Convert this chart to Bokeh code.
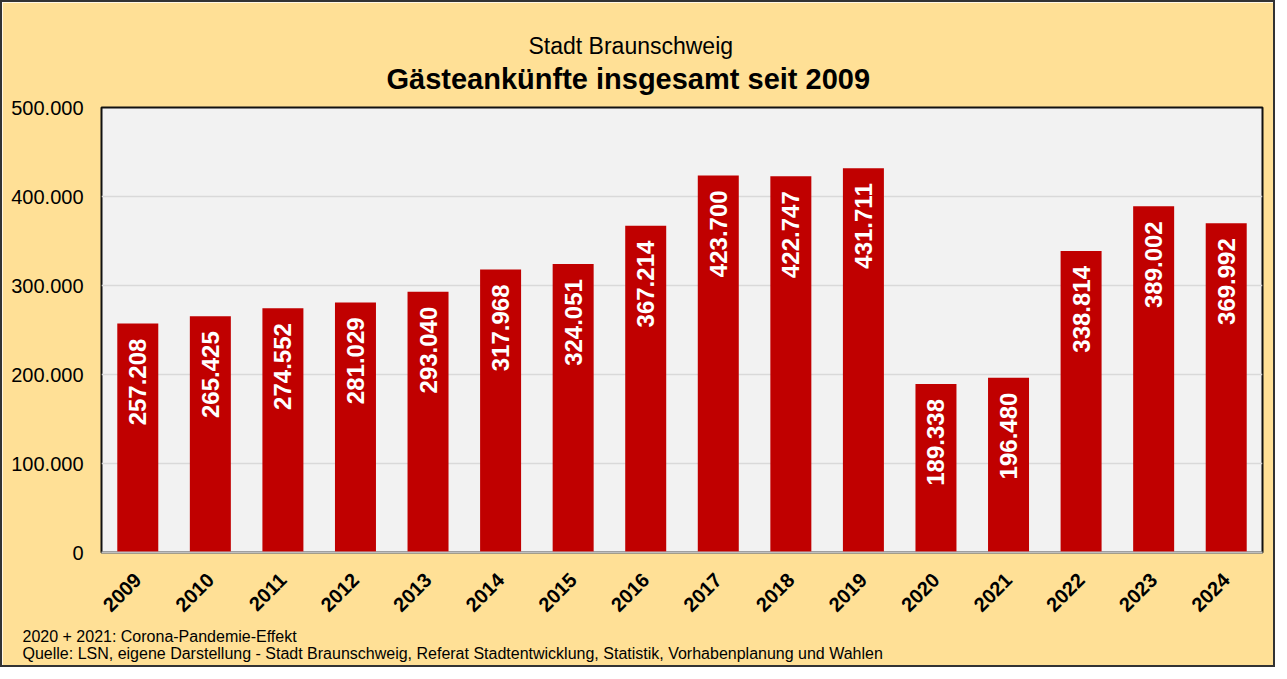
import math
from bokeh.plotting import figure
from bokeh.models import ColumnDataSource, FixedTicker, Title
from bokeh.core.properties import value
from bokeh.embed import file_html
from bokeh.resources import INLINE

years = ["2009", "2010", "2011", "2012", "2013", "2014", "2015", "2016",
         "2017", "2018", "2019", "2020", "2021", "2022", "2023", "2024"]
arrivals = [257208, 265425, 274552, 281029, 293040, 317968, 324051, 367214,
            423700, 422747, 431711, 189338, 196480, 338814, 389002, 369992]
y_ticks = [0, 100000, 200000, 300000, 400000, 500000]
y_tick_labels = ["0", "100.000", "200.000", "300.000", "400.000", "500.000"]
title_top = "Stadt Braunschweig"
title_main = "Gästeankünfte insgesamt seit 2009"
notes = ["2020 + 2021: Corona-Pandemie-Effekt",
         "Quelle: LSN, eigene Darstellung - Stadt Braunschweig, Referat Stadtentwicklung, Statistik, Vorhabenplanung und Wahlen"]

FONT = "Liberation Sans"
BG = "#FFE096"


def fmt(v):
    return f"{v:,}".replace(",", ".")


src = ColumnDataSource(dict(x=years, y=arrivals, label=[fmt(v) for v in arrivals]))

# 1275 x 667 canvas + 2px css border on every side = 1279 x 671
p = figure(x_range=years, y_range=(0, 500000), width=1275, height=667,
           output_backend="svg", toolbar_location=None,
           min_border_left=99, min_border_right=15, min_border_top=105,
           min_border_bottom=117)
p.styles = {"border": "2px solid #333333"}
p.border_fill_color = BG
p.background_fill_color = "#F2F2F2"
p.outline_line_color = "#111111"
p.outline_line_width = 2

p.vbar(x="x", top="y", width=0.565, source=src, color="#C00000", line_color=None)
p.text(x="x", y="y", text="label", source=src, angle=math.pi / 2,
       text_align="right", text_baseline="middle", y_offset=15,
       text_color="white", text_font=value(FONT), text_font_style="bold",
       text_font_size="24px")

p.xgrid.grid_line_color = None
p.ygrid.grid_line_color = "#D9D9D9"
p.ygrid.grid_line_width = 1.5
p.yaxis.ticker = FixedTicker(ticks=y_ticks)
p.yaxis.major_label_overrides = {t: l for t, l in zip(y_ticks, y_tick_labels)}

for ax in (p.xaxis[0], p.yaxis[0]):
    ax.major_tick_line_color = None
    ax.minor_tick_line_color = None
    ax.major_tick_out = 0
    ax.minor_tick_out = 0
    ax.major_label_text_font = FONT
    ax.major_label_text_color = "black"

p.yaxis.axis_line_color = None
p.yaxis.major_label_text_font_size = "20px"
p.yaxis.major_label_standoff = 18

p.xaxis.axis_line_color = "#BFBFBF"
p.xaxis.axis_line_width = 2
p.xaxis.major_label_orientation = math.pi / 4
p.xaxis.major_label_text_font_size = "20px"
p.xaxis.major_label_text_font_style = "bold"
p.xaxis.major_label_standoff = 24

# subtitle (outer panel) and main title (panel next to the frame)
p.title.text = title_top
p.title.text_font = FONT
p.title.text_font_size = "23px"
p.title.text_font_style = "normal"
p.title.text_color = "black"
p.title.align = "left"
p.title.offset = 427
p.title.standoff = -23
p.add_layout(Title(text=title_main, text_font=FONT, text_font_size="29px",
                   text_font_style="bold", text_color="black",
                   align="left", offset=285, standoff=26), "above")

# footnotes below the x axis (one panel per line)
p.add_layout(Title(text=notes[0], text_font=FONT, text_font_size="16px",
                   text_font_style="normal", text_color="black",
                   align="left", offset=-79, vertical_align="top",
                   standoff=14), "below")
p.add_layout(Title(text=notes[1], text_font=FONT, text_font_size="16px",
                   text_font_style="normal", text_color="black",
                   align="left", offset=-79, vertical_align="top",
                   standoff=-18), "below")

open("out.html", "w").write(file_html(p, INLINE))
